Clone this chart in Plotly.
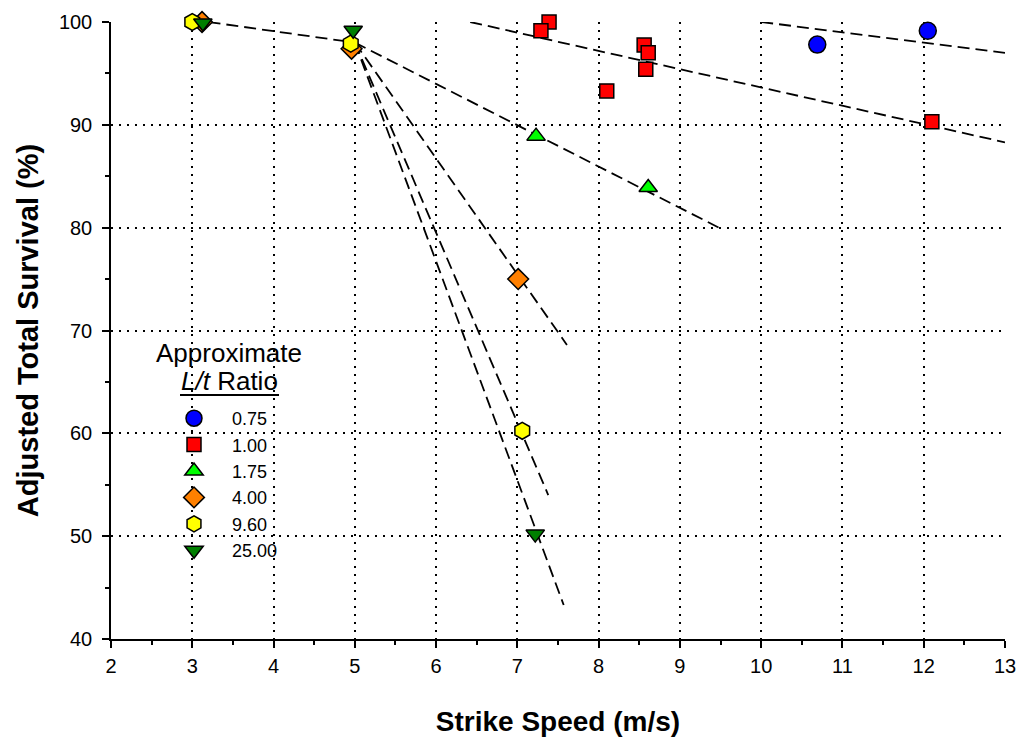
import plotly.graph_objects as go

# ---------------- data ----------------
ratio_labels = ["0.75", "1.00", "1.75", "4.00", "9.60", "25.00"]

x_075 = [10.69, 12.05]
y_075 = [97.8, 99.15]

x_100 = [7.39, 7.29, 8.56, 8.61, 8.58, 8.10, 12.10]
y_100 = [100.0, 99.15, 97.76, 97.0, 95.4, 93.3, 90.3]

x_175 = [7.23, 8.61]
y_175 = [88.9, 83.9]

x_400 = [3.12, 4.96, 7.01]
y_400 = [100.0, 97.4, 75.0]

x_960 = [3.0, 4.95, 7.06]
y_960 = [100.0, 97.9, 60.25]

x_2500 = [3.13, 4.98, 7.22]
y_2500 = [99.9, 99.2, 50.2]

# fitted (dashed) lines, end points
fit_shared_x = [3.2, 5.0]
fit_shared_y = [100.0, 98.0]
fit_075_x = [10.0, 13.0]
fit_075_y = [100.0, 97.0]
fit_100_x = [6.42, 13.0]
fit_100_y = [100.0, 88.3]
fit_175_x = [5.0, 9.48]
fit_175_y = [98.0, 80.0]
fit_400_x = [5.0, 7.61]
fit_400_y = [98.0, 68.6]
fit_960_x = [5.0, 7.38]
fit_960_y = [98.0, 54.0]
fit_2500_x = [5.0, 7.57]
fit_2500_y = [98.0, 43.3]

x_ticks = list(range(2, 14))
y_ticks = list(range(40, 101, 10))

FONT = "Liberation Sans, Arial, sans-serif"

fig = go.Figure()

# dashed fit lines
for fx, fy in [(fit_shared_x, fit_shared_y), (fit_075_x, fit_075_y), (fit_100_x, fit_100_y),
               (fit_175_x, fit_175_y), (fit_400_x, fit_400_y), (fit_960_x, fit_960_y),
               (fit_2500_x, fit_2500_y)]:
    fig.add_trace(go.Scatter(x=fx, y=fy, mode="lines", showlegend=False, hoverinfo="skip",
                             line=dict(color="black", width=1.8, dash="12px,6px"),
                             cliponaxis=False))

series = [
    (x_075, y_075, "circle", "#0000FF", 17),
    (x_100, y_100, "square", "#FF0000", 14),
    (x_175, y_175, "triangle-up", "#00FF00", 16),
    (x_400, y_400, "diamond", "#FF8000", 16),
    (x_960, y_960, "hexagon", "#FFFF00", 17),
    (x_2500, y_2500, "triangle-down", "#007F00", 16),
]
for (sx, sy, sym, col, sz), lab in zip(series, ratio_labels):
    fig.add_trace(go.Scatter(x=sx, y=sy, mode="markers", name=lab, cliponaxis=False,
                             marker=dict(symbol=sym, color=col, size=sz,
                                         line=dict(color="black", width=1.5))))

axis_common = dict(
    showline=True, linecolor="black", linewidth=1.5,
    ticks="outside", ticklen=7, tickwidth=1.5, tickcolor="black",
    showgrid=True, gridcolor="black", gridwidth=1.5, griddash="2px,6px",
    zeroline=False, mirror=False, automargin=False,
    tickfont=dict(family=FONT, size=20, color="black"),
)

fig.update_xaxes(range=[2, 13], tickvals=x_ticks, **axis_common,
                 minor=dict(ticks="outside", ticklen=4, tickwidth=1.5, tickcolor="black",
                            dtick=0.5, showgrid=False),
                 ticklabelstandoff=1,
                 title=dict(text="<b>Strike Speed (m/s)</b>", standoff=36,
                            font=dict(family=FONT, size=28, color="black")))
fig.update_yaxes(range=[40, 100], tickvals=y_ticks, **axis_common,
                 minor=dict(ticks="outside", ticklen=4, tickwidth=1.5, tickcolor="black",
                            dtick=5, showgrid=False),
                 ticklabelstandoff=6,
                 title=dict(text="<b>Adjusted Total Survival (%)</b>", standoff=12,
                            font=dict(family=FONT, size=29, color="black")))

def px_x(p):
    return (p - 111) / 894.0

def px_y(p):
    return (639 - p) / 617.0

fig.add_annotation(text="Approximate", xref="paper", yref="paper", x=px_x(229), y=px_y(353),
                   xanchor="center", yanchor="middle",
                   showarrow=False, font=dict(family=FONT, size=26, color="black"))
fig.add_annotation(text="<i>L/t</i> Ratio", xref="paper", yref="paper", x=px_x(229), y=px_y(381),
                   xanchor="center", yanchor="middle",
                   showarrow=False, font=dict(family=FONT, size=26, color="black"))
fig.add_shape(type="line", xref="paper", yref="paper", x0=px_x(180), x1=px_x(279),
              y0=px_y(395), y1=px_y(395), line=dict(color="black", width=2))

fig.update_layout(
    width=1022, height=738,
    margin=dict(l=111, r=17, t=22, b=99),
    paper_bgcolor="white", plot_bgcolor="white",
    font=dict(family=FONT, color="black"),
    legend=dict(x=px_x(156), y=px_y(400), xanchor="left", yanchor="top",
                itemwidth=66,
                bgcolor="rgba(0,0,0,0)", borderwidth=0,
                font=dict(family=FONT, size=18, color="black")),
)

fig.write_html("out.html", config={"displayModeBar": False},
               post_script="document.body.style.margin='0';document.body.style.overflow='hidden';")
